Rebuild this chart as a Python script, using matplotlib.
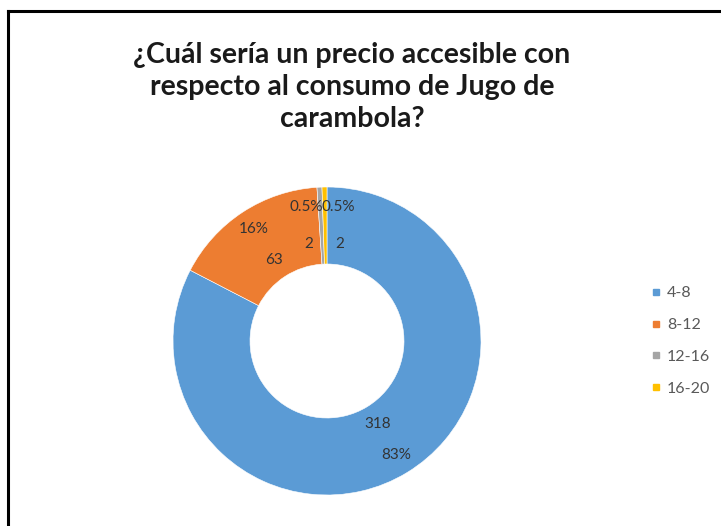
import numpy as np
import matplotlib
matplotlib.use("Agg")
import matplotlib.pyplot as plt
from matplotlib.lines import Line2D

labels = ['4-8', '8-12', '12-16', '16-20']
counts = [318, 63, 2, 2]
pct_labels = ['83%', '16%', '0.5%', '0.5%']
colors = ['#5B9BD5', '#ED7D31', '#A5A5A5', '#FFC000']
title = '¿Cuál sería un precio accesible con\nrespecto al consumo de Jugo de\ncarambola?'

plt.rcParams['font.family'] = ['Lato', 'DejaVu Sans']

fig = plt.figure(figsize=(7.21, 5.26), dpi=100)
W, H = 721, 526

# square axes holding the ring (pixel box around centre 327,341 r 154)
cx, cy, R = 327, 341, 154
ax = fig.add_axes([(cx - R) / W, (H - cy - R) / H, 2 * R / W, 2 * R / H])

wedges, _ = ax.pie(counts, colors=colors, startangle=90, counterclock=False,
                   radius=1.0, wedgeprops=dict(width=0.5, edgecolor='white', linewidth=0.4))
ax.set_xlim(-1, 1)
ax.set_ylim(-1, 1)
ax.set_aspect('equal')
ax.axis('off')

# data labels: counts on inner half, percent on outer half
nudge = [0, 0, -10, 10]  # small slices pushed apart (points)
total = sum(counts)
start = 90.0
for i, c in enumerate(counts):
    span = 360.0 * c / total
    mid = np.deg2rad(start - span / 2)
    start -= span
    for r, txt in ((0.63, str(c)), (0.87, pct_labels[i])):
        ax.annotate(txt, (r * np.cos(mid), r * np.sin(mid)), xytext=(nudge[i], 0),
                    textcoords='offset points', ha='center', va='center',
                    fontsize=11, color='#333333')

fig.text(352 / W, 1 - 87 / H, title, ha='center', va='center', fontsize=20.5,
         fontweight='bold', color='#1a1a1a', linespacing=1.27)

handles = [Line2D([], [], marker='s', linestyle='none', markersize=4.5,
                  markerfacecolor=col, markeredgecolor=col) for col in colors]
fig.legend(handles, labels, loc='center left', bbox_to_anchor=(638 / W, 1 - 341 / H),
           frameon=False, fontsize=11.5, labelcolor='#595959', handlelength=0.5,
           handletextpad=0.4, labelspacing=1.1)

# chart border visible on left and top only
fig.add_artist(Line2D([8 / W, 8 / W], [0, 1 - 11 / H], transform=fig.transFigure,
                      color='black', linewidth=2.2))
fig.add_artist(Line2D([8 / W, 1], [1 - 11 / H, 1 - 11 / H], transform=fig.transFigure,
                      color='black', linewidth=2.2))

fig.savefig('out.png', dpi=100)
